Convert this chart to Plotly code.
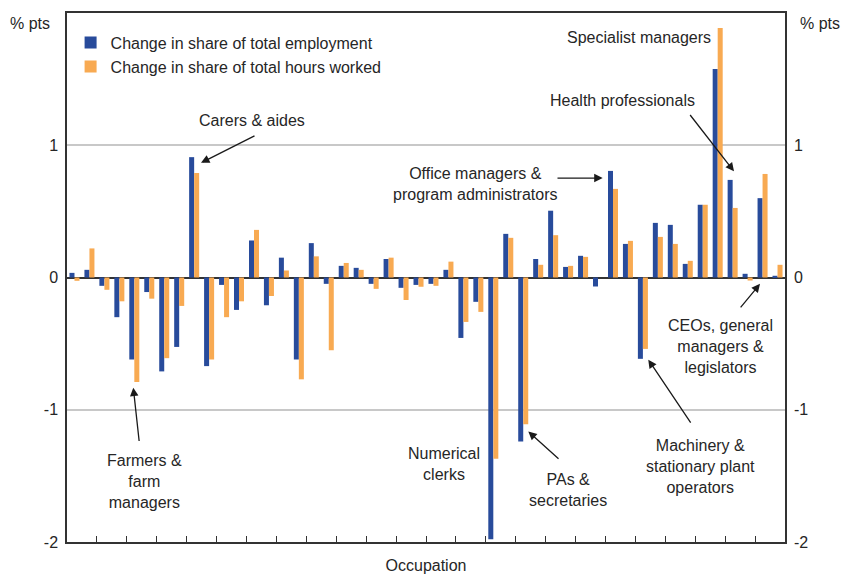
import plotly.graph_objects as go

# 48 occupations, ordered as in the chart
occupations = [f"Occupation {i + 1}" for i in range(48)]
occupations[4] = "Farmers & farm managers"
occupations[8] = "Carers & aides"
occupations[28] = "Numerical clerks"
occupations[30] = "PAs & secretaries"
occupations[36] = "Office managers & program administrators"
occupations[38] = "Machinery & stationary plant operators"
occupations[43] = "Specialist managers"
occupations[44] = "Health professionals"
occupations[45] = "CEOs, general managers & legislators"

employment = [
    0.035, 0.058, -0.063, -0.30, -0.62, -0.11, -0.71, -0.525, 0.91, -0.67,
    -0.056, -0.245, 0.28, -0.21, 0.15, -0.62, 0.26, -0.048, 0.088, 0.073,
    -0.048, 0.14, -0.078, -0.056, -0.048, 0.058, -0.457, -0.184, -1.98, 0.33,
    -1.24, 0.14, 0.505, 0.08, 0.164, -0.068, 0.806, 0.254, -0.615, 0.413,
    0.398, 0.103, 0.55, 1.577, 0.738, 0.028, 0.60, 0.013,
]
hours = [
    -0.025, 0.22, -0.093, -0.18, -0.79, -0.16, -0.61, -0.215, 0.79, -0.62,
    -0.30, -0.18, 0.36, -0.14, 0.053, -0.77, 0.16, -0.55, 0.11, 0.058,
    -0.086, 0.15, -0.17, -0.07, -0.063, 0.12, -0.336, -0.26, -1.37, 0.30,
    -1.11, 0.096, 0.32, 0.088, 0.156, 0.0, 0.67, 0.277, -0.54, 0.307,
    0.254, 0.126, 0.55, 1.887, 0.526, -0.023, 0.783, 0.096,
]

y_ticks = [-2, -1, 0, 1]
y_tick_text = ["-2", "-1", "0", "1"]

BLUE = "#284b9b"
ORANGE = "#f8aa52"
TEXT = "#262626"
FONT = "Arial, Liberation Sans, sans-serif"
FS = 16

fig = go.Figure()
fig.add_trace(go.Bar(x=occupations, y=employment, name="Change in share of total employment",
                     marker_color=BLUE, marker_line_width=0))
fig.add_trace(go.Bar(x=occupations, y=hours, name="Change in share of total hours worked",
                     marker_color=ORANGE, marker_line_width=0))
# invisible trace so the right-hand axis is drawn
fig.add_trace(go.Scatter(x=[occupations[0]], y=[0], yaxis="y2", mode="markers",
                         marker_opacity=0, showlegend=False, hoverinfo="skip"))

# text labels (x in category index units, y in % pts)
labels = [
    ("Carers & aides", 11.87, 1.189),
    ("Farmers &<br>farm<br>managers", 4.65, -1.542),
    ("Numerical<br>clerks", 24.67, -1.413),
    ("PAs &<br>secretaries", 32.99, -1.61),
    ("Machinery &<br>stationary plant<br>operators", 41.85, -1.432),
    ("CEOs, general<br>managers &<br>legislators", 43.22, -0.523),
    ("Health professionals", 36.64, 1.341),
    ("Specialist managers", 37.77, 1.813),
    ("Office managers &<br>program administrators", 26.84, 0.705),
]
for txt, lx, ly in labels:
    fig.add_annotation(x=lx, y=ly, xref="x", yref="y", text=txt, showarrow=False,
                       xanchor="center", yanchor="middle", align="center",
                       font=dict(size=FS, color=TEXT, family=FONT))

# arrows: (head x, head y, tail x, tail y)
arrows = [
    (8.458, 0.867, 12.135, 1.076),
    (3.932, -0.833, 4.334, -1.248),
    (30.34, -1.164, 32.46, -1.381),
    (38.36, -0.621, 41.26, -1.108),
    (45.83, -0.048, 44.45, -0.237),
    (44.09, 0.803, 41.08, 1.240),
    (35.31, 0.752, 32.19, 0.752),
]
for hx, hy, tx, ty in arrows:
    fig.add_annotation(x=hx, y=hy, ax=tx, ay=ty, xref="x", yref="y", axref="x", ayref="y",
                       text="", showarrow=True, arrowhead=2, arrowsize=1.3,
                       arrowwidth=1.3, arrowcolor="#1a1a1a", standoff=0)

for px in (-0.0515, 1.0487):
    fig.add_annotation(x=px, y=0.981, xref="paper", yref="paper", text="% pts",
                       showarrow=False, xanchor="center", yanchor="middle",
                       font=dict(size=FS, color=TEXT, family=FONT))

fig.update_layout(
    width=846, height=574,
    margin=dict(l=67, r=61, t=13, b=32, autoexpand=False),
    paper_bgcolor="white", plot_bgcolor="white",
    barmode="group", bargap=0.33, bargroupgap=0,
    font=dict(family=FONT, size=FS, color=TEXT),
    showlegend=True,
    legend=dict(x=0.005, y=0.976, xanchor="left", yanchor="top",
                bgcolor="rgba(0,0,0,0)", font=dict(size=FS, color=TEXT),
                tracegroupgap=0),
    xaxis=dict(
        range=[-0.5, 47.5], showticklabels=False, ticks="inside", ticklen=6,
        tickson="boundaries", tickcolor="#333", showgrid=False,
        showline=True, linecolor="#333", linewidth=1.5, mirror=True,
        title=dict(text="Occupation", standoff=18, font=dict(size=FS, color=TEXT)),
    ),
    yaxis=dict(
        range=[-2, 2], tickvals=y_ticks, ticktext=y_tick_text, ticks="", showgrid=True,
        gridcolor="#c8c8c8", gridwidth=1.5, zeroline=True, zerolinecolor="#333",
        zerolinewidth=1.5, showline=True, linecolor="#333", linewidth=1.5,
        mirror=True, ticklabelstandoff=4,
    ),
    yaxis2=dict(
        range=[-2, 2], tickvals=y_ticks, ticktext=y_tick_text, ticks="", overlaying="y",
        side="right", showgrid=False, zeroline=False, showline=False, ticklabelstandoff=8,
    ),
)

# drop the default 8px page margin so the figure fills the window exactly
fig.write_html("out.html", config={"displayModeBar": False},
               post_script="document.body.style.margin='0';document.body.style.overflow='hidden';")
